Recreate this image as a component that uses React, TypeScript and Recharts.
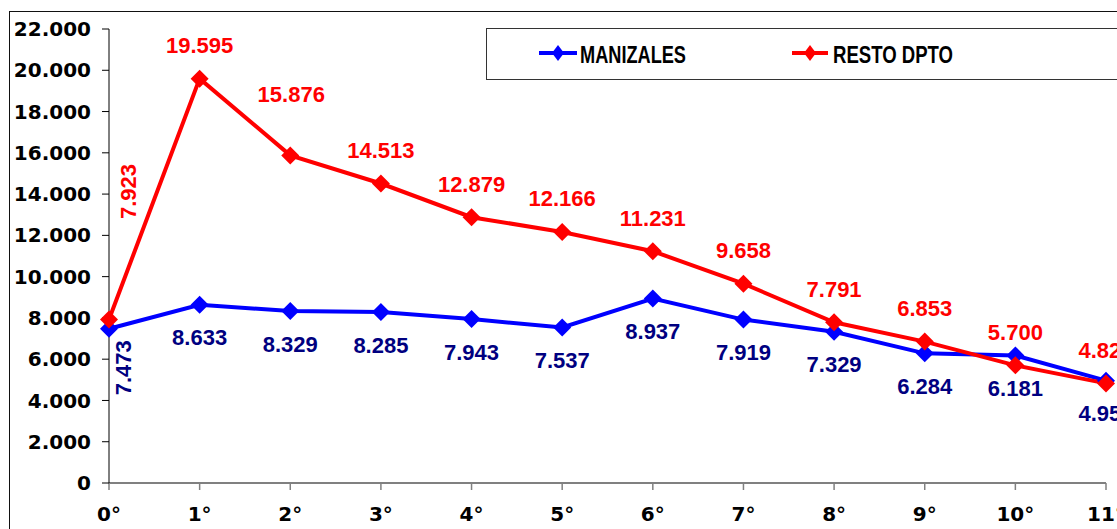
import React from 'react';
import { LineChart, Line, XAxis, YAxis } from 'recharts';

const grados = ['0°', '1°', '2°', '3°', '4°', '5°', '6°', '7°', '8°', '9°', '10°', '11°'];
const manizales = [7473, 8633, 8329, 8285, 7943, 7537, 8937, 7919, 7329, 6284, 6181, 4959];
const restoDpto = [7923, 19595, 15876, 14513, 12879, 12166, 11231, 9658, 7791, 6853, 5700, 4827];
const yTicks = [0, 2000, 4000, 6000, 8000, 10000, 12000, 14000, 16000, 18000, 20000, 22000];

const data = grados.map((g, i) => ({ grado: g, manizales: manizales[i], resto: restoDpto[i] }));

const fmt = (v: number) => String(v).replace(/\B(?=(\d{3})+(?!\d))/g, '.');

const BLUE = '#0000FF';
const RED = '#FF0000';
const NAVY = '#000080';
const labelFont = "'Liberation Sans', Arial, sans-serif";
const axisFont = "'DejaVu Sans', Verdana, sans-serif";

// a few labels were moved by hand in the original
const blueShift: Record<number, { dx: number; dy: number; rot?: boolean }> = {
  0: { dx: 15, dy: 39, rot: true },
};
const redShift: Record<number, { dx: number; dy: number; rot?: boolean }> = {
  0: { dx: 20, dy: -128, rot: true },
  2: { dx: 1, dy: -61 },
};

const makeDot = (color: string, labelColor: string, below: boolean, shifts: typeof blueShift) => (p: any) => {
  const { cx, cy, index, value } = p;
  if (cx == null || cy == null) return <g key={index} />;
  const s = shifts[index] || { dx: 0, dy: below ? 33 : -33 };
  const lx = cx + s.dx;
  const ly = cy + s.dy;
  const r = 9;
  return (
    <g key={`d-${index}`}>
      <path d={`M${cx},${cy - r}L${cx + r},${cy}L${cx},${cy + r}L${cx - r},${cy}Z`} fill={color} />
      <text
        x={lx}
        y={ly}
        textAnchor="middle"
        dominantBaseline="central"
        fill={labelColor}
        fontSize={22}
        fontWeight="bold"
        fontFamily={labelFont}
        transform={s.rot ? `rotate(-90, ${lx}, ${ly})` : undefined}
      >
        {fmt(Array.isArray(value) ? value[1] : value)}
      </text>
    </g>
  );
};

const Legend = () => (
  <div style={{ position: 'absolute', left: 486, top: 28, width: 700, height: 52, border: '1.5px solid #333', boxSizing: 'border-box', background: '#fff' }}>
    <svg width={700} height={52} style={{ position: 'absolute', left: -1, top: -1 }}>
      <line x1={53} y1={25} x2={91} y2={25} stroke={BLUE} strokeWidth={4} />
      <path d="M72,17L78,25L72,33L66,25Z" fill={BLUE} />
      <text x={94} y={26} dominantBaseline="central" fontSize={24} fontWeight="bold" fontFamily={labelFont} textLength={106} lengthAdjust="spacingAndGlyphs">MANIZALES</text>
      <line x1={306} y1={25} x2={342} y2={25} stroke={RED} strokeWidth={4} />
      <path d="M324,17L330,25L324,33L318,25Z" fill={RED} />
      <text x={347} y={26} dominantBaseline="central" fontSize={24} fontWeight="bold" fontFamily={labelFont} textLength={120} lengthAdjust="spacingAndGlyphs">RESTO DPTO</text>
    </svg>
  </div>
);

export default function App() {
  return (
    <div style={{ position: 'absolute', left: 0, top: 0, width: 1117, height: 529, overflow: 'hidden', background: '#fff' }}>
      <div style={{ position: 'absolute', left: 9, top: 11, width: 1300, height: 700, borderLeft: '1px solid #111', borderTop: '1px solid #111' }} />
      <div style={{ position: 'absolute', left: 0, top: 0 }}>
        <LineChart width={1117} height={529} data={data} margin={{ top: 29, right: 11, bottom: 0, left: 9 }}>
          <XAxis
            dataKey="grado"
            interval={0}
            height={46}
            tickSize={7}
            tickMargin={17}
            axisLine={{ stroke: '#808080', strokeWidth: 2 }}
            tickLine={{ stroke: '#808080', strokeWidth: 1.5 }}
            tick={{ fill: '#000', fontSize: 20, fontWeight: 'bold', fontFamily: axisFont }}
          />
          <YAxis
            width={100}
            domain={[0, 22000]}
            ticks={yTicks}
            interval={0}
            tickSize={7}
            tickMargin={11}
            tickFormatter={fmt}
            axisLine={{ stroke: '#000', strokeWidth: 1 }}
            tickLine={{ stroke: '#000', strokeWidth: 1 }}
            tick={{ fill: '#000', fontSize: 20, fontWeight: 'bold', fontFamily: axisFont }}
          />
          <Line
            dataKey="manizales"
            stroke={BLUE}
            strokeWidth={4}
            dot={makeDot(BLUE, NAVY, true, blueShift)}
            activeDot={false}
            isAnimationActive={false}
          />
          <Line
            dataKey="resto"
            stroke={RED}
            strokeWidth={4}
            dot={makeDot(RED, RED, false, redShift)}
            activeDot={false}
            isAnimationActive={false}
          />
        </LineChart>
      </div>
      <Legend />
    </div>
  );
}
